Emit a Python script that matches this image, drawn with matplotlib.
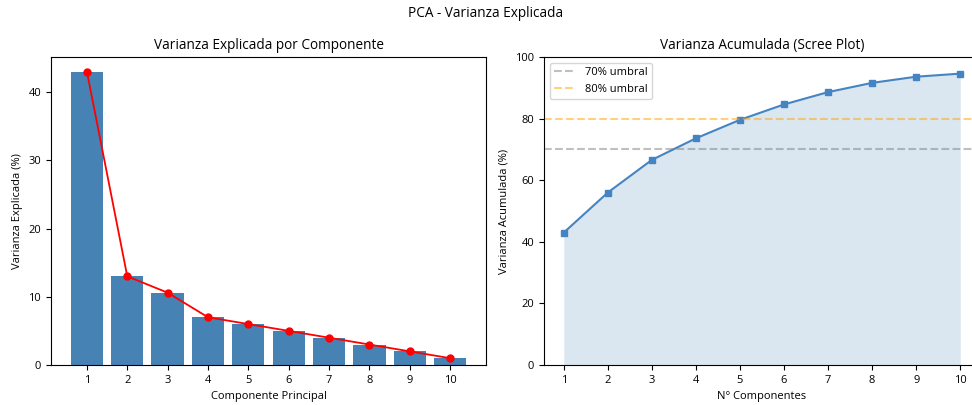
import matplotlib.pyplot as plt
import numpy as np

plt.rcParams['font.family'] = ['Open Sans', 'DejaVu Sans']

componentes = [1, 2, 3, 4, 5, 6, 7, 8, 9, 10]
varianza = [43.0, 13.0, 10.6, 7.0, 6.0, 5.0, 4.0, 3.0, 2.0, 1.0]
acumulada = list(np.cumsum(varianza))

fig = plt.figure(figsize=(9.72, 4.05), dpi=100)
fig.suptitle('PCA - Varianza Explicada', fontsize=9.8, y=0.985)

# panel izquierdo: varianza por componente
ax1 = fig.add_axes([51 / 972, 40 / 405, 435 / 972, 308 / 405])
ax1.bar(componentes, varianza, color='steelblue')
ax1.plot(componentes, varianza, 'o-', color='red', markersize=5, linewidth=1.3)
ax1.set_title('Varianza Explicada por Componente', fontsize=9.8)
ax1.set_xlabel('Componente Principal', fontsize=8)
ax1.set_ylabel('Varianza Explicada (%)', fontsize=8)
ax1.set_xticks(componentes)
ax1.tick_params(labelsize=8)

# panel derecho: varianza acumulada
ax2 = fig.add_axes([544 / 972, 40 / 405, 436 / 972, 308 / 405])
ax2.plot(componentes, acumulada, 's-', color='#4584c2', markersize=5, linewidth=1.5)
ax2.fill_between(componentes, acumulada, alpha=0.2, color='steelblue', linewidth=0)
ax2.axhline(70, color='gray', linestyle='--', alpha=0.5, label='70% umbral')
ax2.axhline(80, color='orange', linestyle='--', alpha=0.5, label='80% umbral')
ax2.set_ylim(0, 100)
ax2.set_title('Varianza Acumulada (Scree Plot)', fontsize=9.8)
ax2.set_xlabel('N° Componentes', fontsize=8)
ax2.set_ylabel('Varianza Acumulada (%)', fontsize=8)
ax2.set_xticks(componentes)
ax2.tick_params(labelsize=8)
ax2.legend(loc='upper left', fontsize=8)

fig.savefig('out.png', dpi=100)
